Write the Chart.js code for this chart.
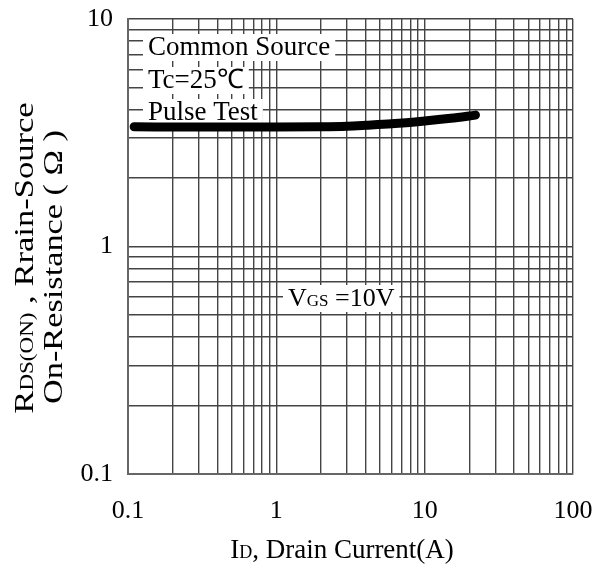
<!DOCTYPE html>
<html lang="en">
  <head>
    <meta charset="UTF-8" />
    <title>RDS(ON) vs Drain Current</title>
    <script src="https://cdn.jsdelivr.net/npm/chart.js"></script>
    <style>
      html, body {
        margin: 0;
        padding: 0;
        background: #fff;
      }
      .chart-container {
        width: 612px;
        height: 568px;
      }
    </style>
  </head>
  <body>
    <div class="chart-container">
      <canvas id="rdsChart" width="612" height="568"></canvas>
    </div>

    <script>
      // Drain current (A) and on-resistance (Ohm), VGS = 10V, Tc = 25C
      const drainCurrent = [0.11, 0.3, 1, 2, 3, 4, 6, 10, 15, 22];
      const onResistance = [3.36, 3.35, 3.35, 3.36, 3.38, 3.41, 3.46, 3.56, 3.66, 3.78];

      // grid lines: 1..9 per decade
      const xTicks = [0.1, 0.2, 0.3, 0.4, 0.5, 0.6, 0.7, 0.8, 0.9,
                      1, 2, 3, 4, 5, 6, 7, 8, 9,
                      10, 20, 30, 40, 50, 60, 70, 80, 90, 100];
      const yTicks = [0.1, 0.2, 0.3, 0.4, 0.5, 0.6, 0.7, 0.8, 0.9,
                      1, 2, 3, 4, 5, 6, 7, 8, 9, 10];
      const xLabels = [0.1, 1, 10, 100];
      const yLabels = [0.1, 1, 10];

      const FONT = '"Liberation Serif", "Times New Roman", serif';
      const GRID = "#444";

      // draws a row of text pieces (normal + small subscript-like parts)
      function drawRuns(ctx, runs, x, y, align, box, stretch) {
        const k = stretch || 1;
        let w = 0;
        runs.forEach((r) => {
          ctx.font = r.size + "px " + FONT;
          r.w = ctx.measureText(r.t).width;
          w += r.w;
        });
        let sx = align === "center" ? x / k - w / 2 : x;
        if (box) {
          ctx.fillStyle = "#fff";
          ctx.fillRect(sx - 5, y - 21, w + 10, 27);
        }
        ctx.save();
        ctx.scale(k, 1);
        ctx.fillStyle = "#000";
        ctx.textAlign = "left";
        ctx.textBaseline = "alphabetic";
        runs.forEach((r) => {
          ctx.font = r.size + "px " + FONT;
          ctx.fillText(r.t, sx, y);
          sx += r.w;
        });
        ctx.restore();
      }

      const notesPlugin = {
        id: "notes",
        beforeDatasetsDraw(chart) {
          const ctx = chart.ctx;
          ctx.save();
          drawRuns(ctx, [{ t: "Common Source", size: 27 }], 148, 55, "left", true);
          drawRuns(ctx, [{ t: "Tc=25℃", size: 27 }], 148, 88, "left", true);
          drawRuns(ctx, [{ t: "Pulse Test", size: 27 }], 148, 120, "left", true);
          drawRuns(ctx, [
            { t: "V", size: 26 },
            { t: "GS", size: 17 },
            { t: " =10V", size: 26 },
          ], 288, 306, "left", true);
          ctx.restore();
        },
        afterDraw(chart) {
          const ctx = chart.ctx;
          ctx.save();
          // x axis title
          drawRuns(ctx, [
            { t: "I", size: 27 },
            { t: "D", size: 18 },
            { t: ", Drain Current(A)", size: 27 },
          ], 342, 558, "center", false);
          ctx.restore();

          // y axis title, two lines, stretched along the text
          ctx.save();
          ctx.rotate(-Math.PI / 2);
          drawRuns(ctx, [
            { t: "R", size: 27 },
            { t: "DS(ON)", size: 18 },
            { t: " , Rrain-Source", size: 27 },
          ], -258, 33, "center", false, 1.28);
          drawRuns(ctx, [{ t: "On-Resistance ( Ω )", size: 27 }], -267, 62, "center", false, 1.27);
          ctx.restore();
        },
      };

      const ctx = document.getElementById("rdsChart").getContext("2d");
      new Chart(ctx, {
        type: "line",
        data: {
          datasets: [
            {
              data: drainCurrent.map((x, i) => ({ x: x, y: onResistance[i] })),
              borderColor: "#000",
              borderWidth: 9,
              borderCapStyle: "round",
              borderJoinStyle: "round",
              cubicInterpolationMode: "monotone",
              pointRadius: 0,
              fill: false,
            },
          ],
        },
        options: {
          responsive: false,
          animation: false,
          layout: { padding: { top: 19, right: 39, left: 0, bottom: 0 } },
          plugins: {
            legend: { display: false },
            tooltip: { enabled: false },
          },
          scales: {
            x: {
              type: "logarithmic",
              min: 0.1,
              max: 100,
              afterBuildTicks: (s) => { s.ticks = xTicks.map((v) => ({ value: v })); },
              afterFit: (s) => {
                s.height = 94;
                s.paddingLeft = 0;
                s.paddingRight = 0;
              },
              grid: { color: GRID, lineWidth: 1.4, drawTicks: false },
              border: { color: "#666", width: 2 },
              ticks: {
                autoSkip: false,
                maxRotation: 0,
                padding: 22,
                color: "#000",
                font: { family: FONT, size: 26 },
                callback: (v) => (xLabels.includes(v) ? String(v) : ""),
              },
            },
            y: {
              type: "logarithmic",
              min: 0.1,
              max: 10,
              afterBuildTicks: (s) => { s.ticks = yTicks.map((v) => ({ value: v })); },
              afterFit: (s) => {
                s.width = 128;
                s.paddingTop = 0;
                s.paddingBottom = 0;
              },
              grid: { color: GRID, lineWidth: 1.4, drawTicks: false },
              border: { color: "#666", width: 2 },
              ticks: {
                autoSkip: false,
                padding: 15,
                color: "#000",
                font: { family: FONT, size: 26 },
                callback: (v) => (yLabels.includes(v) ? String(v) : ""),
              },
            },
          },
        },
        plugins: [notesPlugin],
      });
    </script>
  </body>
</html>
